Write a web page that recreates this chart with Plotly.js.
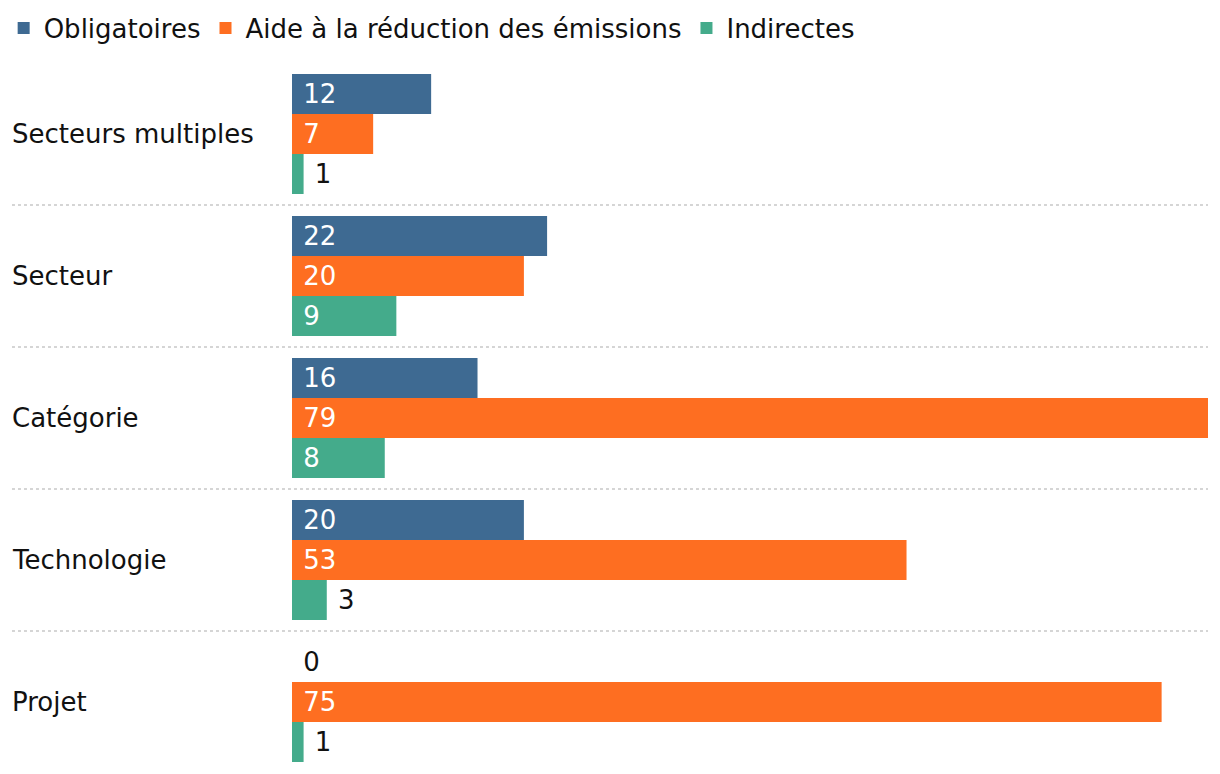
<!DOCTYPE html>
<html>
<head>
<meta charset="utf-8">
<script src="https://cdn.plot.ly/plotly-3.0.1.min.js"></script>
<style>
  html, body { margin: 0; padding: 0; background: #fff; }
  #chart { width: 1220px; height: 774px; }
</style>
</head>
<body>
<div id="chart"></div>
<script>
const categories = ['Secteurs multiples', 'Secteur', 'Catégorie', 'Technologie', 'Projet'];
const obligatoires = [12, 22, 16, 20, 0];
const aideReduction = [7, 20, 79, 53, 75];
const indirectes = [1, 9, 8, 3, 1];

const seriesNames = ['Obligatoires', 'Aide à la réduction des émissions', 'Indirectes'];
const seriesColors = ['#3e6a92', '#fe6e21', '#44ab8b'];
const seriesValues = [obligatoires, aideReduction, indirectes];

const FONT = 'DejaVu Sans, sans-serif';
const FSIZE = 26;

const traces = seriesValues.map((vals, i) => ({
    type: 'bar',
    orientation: 'h',
    name: seriesNames[i],
    y: categories,
    x: vals,
    marker: { color: seriesColors[i] },
    text: vals.map(v => '\u00a0' + v),
    textposition: vals.map(v => v < 5 ? 'outside' : 'inside'),
    insidetextanchor: 'start',
    textangle: 0,
    constraintext: 'none',
    textfont: { family: FONT, size: FSIZE, color: vals.map(v => v < 5 ? '#111' : '#fff') },
    cliponaxis: false,
    hoverinfo: 'x+name'
}));

// dotted separators between category bands
const shapes = categories.slice(0, -1).map((c, i) => ({
    type: 'line', xref: 'paper', yref: 'y',
    x0: -0.3057, x1: 1, y0: i + 0.5, y1: i + 0.5,
    line: { color: '#c8c8c8', width: 1.5, dash: 'dot' }
}));

// left-aligned category labels
const annotations = categories.map(c => ({
    xref: 'paper', yref: 'y', x: -0.308, y: c,
    xanchor: 'left', yanchor: 'middle',
    text: c, showarrow: false,
    font: { family: FONT, size: FSIZE, color: '#111' }
}));

const layout = {
    width: 1220,
    height: 774,
    margin: { l: 292, r: 12, t: 63, b: 1 },
    paper_bgcolor: '#fff',
    plot_bgcolor: '#fff',
    barmode: 'group',
    bargap: 0.155,
    bargroupgap: 0,
    font: { family: FONT, size: FSIZE, color: '#111' },
    showlegend: true,
    legend: {
        orientation: 'h',
        xref: 'container', yref: 'container',
        x: 0.003, y: 0.994, xanchor: 'left', yanchor: 'top',
        font: { family: FONT, size: FSIZE, color: '#111' },
        itemsizing: 'constant',
        traceorder: 'normal'
    },
    xaxis: { range: [0, 79], visible: false, fixedrange: true },
    yaxis: {
        autorange: 'reversed',
        showticklabels: false,
        showgrid: false,
        zeroline: false,
        ticks: '',
        fixedrange: true
    },
    shapes: shapes,
    annotations: annotations
};

Plotly.newPlot('chart', traces, layout, { displayModeBar: false, staticPlot: true });
</script>
</body>
</html>
